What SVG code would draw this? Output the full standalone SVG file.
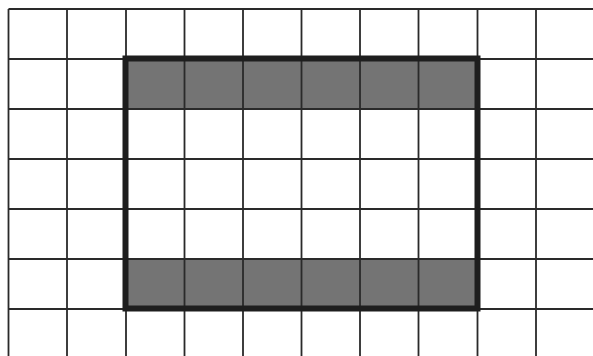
<svg xmlns="http://www.w3.org/2000/svg" width="593" height="356" viewBox="0 0 593 356">
<style>
.g{stroke:#2a2a2a;stroke-width:1.8;fill:none}
.band{fill:#747474}
.frame{stroke:#1e1e1e;stroke-width:6;fill:none}
</style>
<rect width="593" height="356" fill="#ffffff"/>
<g id="bands">
<rect class="band" x="126" y="59" width="352" height="50"/>
<rect class="band" x="126" y="259" width="352" height="50"/>
</g>
<g id="grid">
<path class="g" d="M8.5 9V356M67 9V356M126 9V356M184.5 9V356M243 9V356M301.5 9V356M360 9V356M418.5 9V356M477.5 9V356M536 9V356"/>
<path class="g" d="M8.5 9H593M8.5 59H593M8.5 109H593M8.5 159H593M8.5 209H593M8.5 259H593M8.5 309H593"/>
</g>
<g id="frame">
<rect class="frame" x="125.5" y="58.5" width="352" height="250"/>
</g>
</svg>
